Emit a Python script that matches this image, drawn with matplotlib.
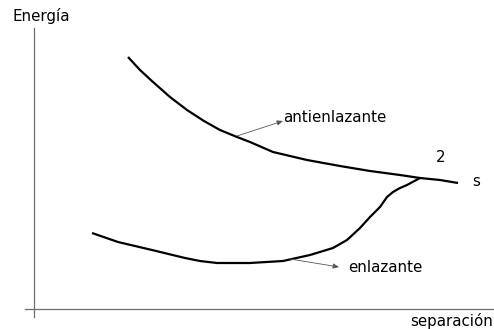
import matplotlib.pyplot as plt

# curve points, in drawing units (x right, y down)
anti_x = [128, 140, 153, 170, 187, 204, 220, 237, 250, 273, 307, 340, 370, 400, 420, 440, 458]
anti_y = [57, 70, 82, 97, 110, 121, 130, 137, 142, 152, 160, 166, 171, 175, 178, 180, 183]

enl_x = [92, 118, 152, 185, 200, 217, 250, 283, 310, 333, 347, 360, 370, 380, 387, 393, 400, 407, 420]
enl_y = [233, 242, 250, 258, 261, 263, 263, 261, 255, 248, 240, 228, 217, 207, 197, 192, 188, 185, 178]

fig = plt.figure(figsize=(4.94, 3.29), dpi=100)
ax = fig.add_axes([0, 0, 1, 1])
ax.set_xlim(0, 494)
ax.set_ylim(329, 0)
ax.axis("off")

# ejes
ax.plot([34, 34], [28, 317], color="#6e6e6e", lw=0.9)
ax.plot([25, 494], [309, 309], color="#6e6e6e", lw=0.9)

ax.plot(anti_x, anti_y, color="black", lw=1.6, solid_capstyle="butt")
ax.plot(enl_x, enl_y, color="black", lw=1.6, solid_capstyle="butt")

arrow = dict(arrowstyle="-|>,head_length=0.35,head_width=0.15", color="#555555", lw=0.6, shrinkA=0, shrinkB=0)
ax.annotate("", xy=(283, 121), xytext=(237, 136), arrowprops=arrow)
ax.annotate("", xy=(339, 267), xytext=(290, 259), arrowprops=arrow)

fs = 10.8
ax.text(12, 16, "Energía", fontsize=fs, va="center", ha="left")
ax.text(283, 117, "antienlazante", fontsize=fs, va="center", ha="left")
ax.text(348, 267, "enlazante", fontsize=fs, va="center", ha="left")
ax.text(441, 158, "2", fontsize=fs, va="center", ha="center")
ax.text(476, 182, "s", fontsize=fs, va="center", ha="center")
ax.text(493, 321, "separación", fontsize=fs, va="center", ha="right")

fig.savefig("out.png", dpi=100)
